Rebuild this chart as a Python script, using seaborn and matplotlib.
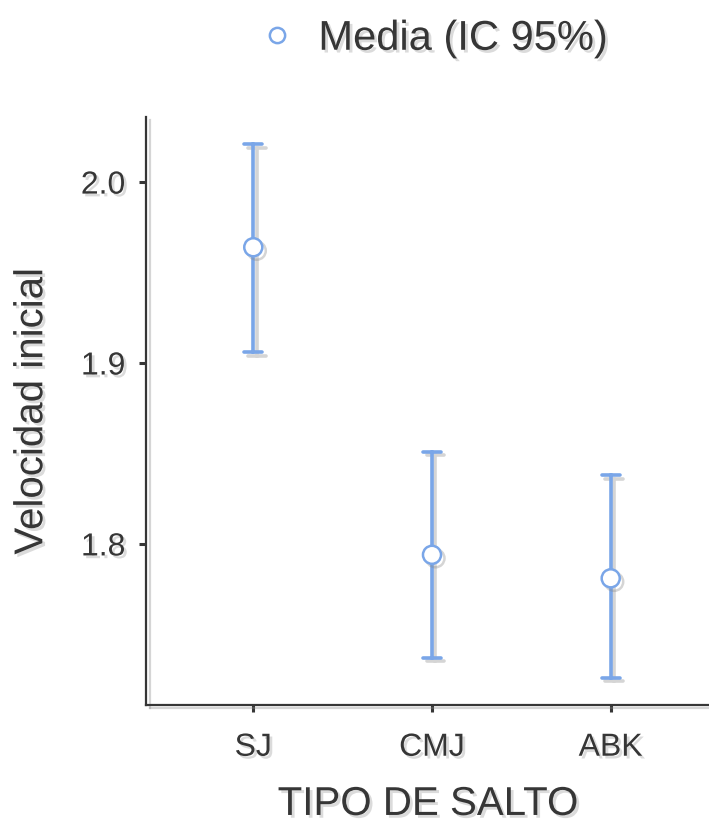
import numpy as np
import pandas as pd
import seaborn as sns
import matplotlib
matplotlib.use("Agg")
import matplotlib.pyplot as plt
import matplotlib.patheffects as pe
from matplotlib.lines import Line2D

categories = ["SJ", "CMJ", "ABK"]
means = [1.964, 1.794, 1.781]
ci_low = [1.906, 1.737, 1.726]
ci_high = [2.021, 1.851, 1.838]
y_ticks = [1.8, 1.9, 2.0]
x_label = "TIPO DE SALTO"
y_label = "Velocidad inicial"
legend_label = "Media (IC 95%)"

rows = []
for c, lo, m, hi in zip(categories, ci_low, means, ci_high):
    for v in (lo, m, hi):
        rows.append({"tipo": c, "valor": v})
df = pd.DataFrame(rows)

sns.set_theme(style="white")
plt.rcParams["font.family"] = ["Liberation Sans", "DejaVu Sans"]

COL = "#7aa6e8"
TXT = "#363636"
shadow = [pe.SimpleLineShadow(offset=(2.5, -2.5), shadow_color="#888888", alpha=0.35), pe.Normal()]
tshadow = [pe.withSimplePatchShadow(offset=(2, -2), shadow_rgbFace="#999999", alpha=0.35)]

fig = plt.figure(figsize=(7.09, 8.25), dpi=100)
ax = fig.add_axes([0.206, 0.1455, 0.794, 0.7127])

sns.pointplot(data=df, x="tipo", y="valor", order=categories,
              estimator=np.median, errorbar=lambda x: (x.min(), x.max()),
              linestyle="none", markers="o", color=COL, capsize=0.1,
              err_kws={"linewidth": 2.6}, markersize=13,
              markerfacecolor="white", markeredgecolor=COL, markeredgewidth=1.8,
              ax=ax)

for ln in ax.lines:
    ln.set_path_effects(shadow)
    ln.set_zorder(3)
for ln in ax.lines:
    if ln.get_marker() == "o":
        ln.set_zorder(5)
for coll in ax.collections:
    coll.set_zorder(5)

ax.set_xlim(-0.6, 2.55)
ax.set_ylim(1.711, 2.036)
ax.set_yticks(y_ticks)
ax.set_yticklabels([f"{t:.1f}" for t in y_ticks])

for side in ["top", "right"]:
    ax.spines[side].set_visible(False)
for side in ["left", "bottom"]:
    ax.spines[side].set_color(TXT)
    ax.spines[side].set_linewidth(1.6)
    ax.spines[side].set_path_effects(shadow)

ax.tick_params(axis="both", direction="out", length=5, width=2.2, color=TXT,
               labelsize=23, labelcolor=TXT, left=True, bottom=True)
ax.tick_params(axis="y", pad=10)
ax.tick_params(axis="x", pad=15)
for lab in ax.get_xticklabels() + ax.get_yticklabels():
    lab.set_path_effects(tshadow)

ax.set_xlabel(x_label, fontsize=29, color=TXT, labelpad=16)
ax.set_ylabel(y_label, fontsize=29, color=TXT, labelpad=22)
ax.xaxis.label.set_path_effects(tshadow)
ax.yaxis.label.set_path_effects(tshadow)

handle = Line2D([], [], linestyle="none", marker="o", markersize=11,
                markerfacecolor="white", markeredgecolor=COL, markeredgewidth=1.8)
leg = fig.legend([handle], [legend_label], loc="center", bbox_to_anchor=(0.606, 0.953),
                 frameon=False, fontsize=30, handletextpad=0.4, handlelength=1.2,
                 labelcolor=TXT)
for t in leg.get_texts():
    t.set_path_effects(tshadow)

fig.savefig("out.png", dpi=100)
